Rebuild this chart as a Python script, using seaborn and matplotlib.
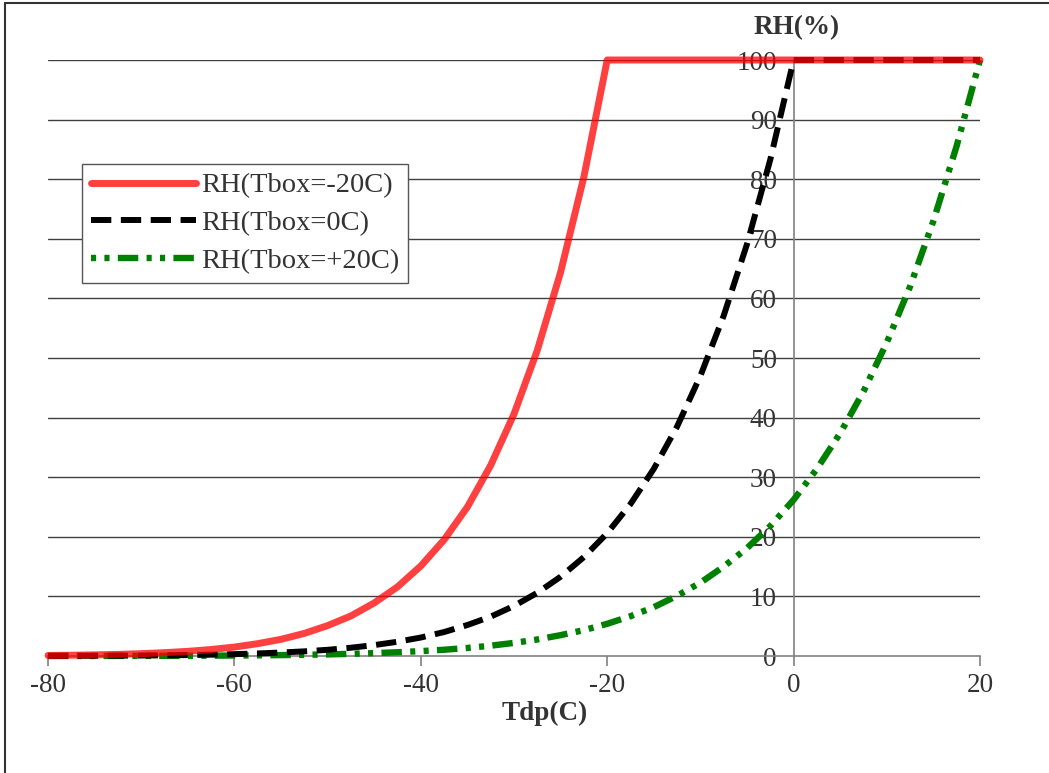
import pandas as pd
import seaborn as sns
import matplotlib
matplotlib.use("Agg")
from matplotlib import pyplot as plt
from matplotlib.lines import Line2D

# dew point temperature (C)
tdp = [-80, -77.5, -75, -72.5, -70, -67.5, -65, -62.5, -60, -57.5, -55,
       -52.5, -50, -47.5, -45, -42.5, -40, -37.5, -35, -32.5, -30,
       -27.5, -25, -22.5, -20, -17.5, -15, -12.5, -10, -7.5, -5,
       -2.5, 0, 2.5, 5, 7.5, 10, 12.5, 15, 17.5, 20]

# relative humidity (%), one list per box temperature
rh_m20 = [0.09, 0.13, 0.19, 0.27, 0.39, 0.56, 0.78, 1.09, 1.5, 2.07, 2.8,
          3.79, 5.1, 6.72, 8.9, 11.6, 15.1, 19.5, 25.0, 32.0, 40.6,
          51.3, 64.4, 80.4, 100, 100, 100, 100, 100, 100, 100,
          100, 100, 100, 100, 100, 100, 100, 100, 100, 100]
rh_0 = [0.02, 0.03, 0.04, 0.06, 0.08, 0.11, 0.16, 0.22, 0.31, 0.43, 0.58,
        0.78, 1.04, 1.39, 1.83, 2.39, 3.1, 4.02, 5.2, 6.6, 8.4,
        10.6, 13.3, 16.6, 20.6, 25.5, 31.4, 38.5, 47.0, 57.1, 69.1,
        83.3, 100, 100, 100, 100, 100, 100, 100, 100, 100]
rh_p20 = [0.005, 0.007, 0.01, 0.015, 0.02, 0.03, 0.04, 0.06, 0.08, 0.11, 0.15,
          0.2, 0.27, 0.36, 0.48, 0.63, 0.82, 1.05, 1.35, 1.73, 2.2,
          2.77, 3.5, 4.34, 5.4, 6.68, 8.2, 10.1, 12.3, 15.0, 18.1,
          21.8, 26.2, 31.4, 37.4, 44.4, 52.6, 62.0, 73.0, 85.6, 100]

labels = ["RH(Tbox=-20C)", "RH(Tbox=0C)", "RH(Tbox=+20C)"]
xticks = [-80, -60, -40, -20, 0, 20]
yticks = [0, 10, 20, 30, 40, 50, 60, 70, 80, 90, 100]

df = pd.DataFrame({"Tdp": tdp, "m20": rh_m20, "z0": rh_0, "p20": rh_p20})

sns.set_style("white")
plt.rcParams["font.family"] = ["Liberation Serif", "DejaVu Serif"]
plt.rcParams["axes.unicode_minus"] = False

W, H = 1049, 773
fig = plt.figure(figsize=(W / 100, H / 100), dpi=100)
ax = fig.add_axes([48 / W, 1 - 656 / H, 932 / W, 596 / H])

red = (1.0, 0.0, 0.0)
green = "#008000"

#green dash-dot-dot, black dashes, red solid on top (semi transparent)
sns.lineplot(data=df, x="Tdp", y="p20", ax=ax, color=green, linewidth=4.6,
             linestyle=(0, (3.2, 1.3, 0.8, 1.3, 0.8, 1.3)), clip_on=False,
             zorder=3)
sns.lineplot(data=df, x="Tdp", y="z0", ax=ax, color="black", linewidth=4.3,
             linestyle=(0, (3.4, 1.6)), clip_on=False, zorder=4)
sns.lineplot(data=df, x="Tdp", y="m20", ax=ax, color=red, alpha=0.75,
             linewidth=5.0, clip_on=False, zorder=5)

ax.set_xlim(-80, 20)
ax.set_ylim(0, 100)
ax.set_xticks(xticks)
ax.set_yticks(yticks)
ax.set_xlabel("")
ax.set_ylabel("")

# horizontal grid lines
for v in yticks[1:]:
    ax.axhline(v, color="#404040", linewidth=1, zorder=1)

for s in ["top", "right"]:
    ax.spines[s].set_visible(False)
ax.spines["left"].set_position(("data", 0))
ax.spines["left"].set_color("#808080")
ax.spines["left"].set_linewidth(1.2)
ax.spines["left"].set_zorder(2)
ax.spines["bottom"].set_color("#808080")
ax.spines["bottom"].set_linewidth(1.2)

tick_col = "#333333"
ax.tick_params(axis="y", length=0, pad=12, labelsize=19.5, labelcolor=tick_col)
ax.tick_params(axis="x", length=7, width=1.2, color="#808080", direction="out",
               pad=5, labelsize=19.5, labelcolor=tick_col, bottom=True)
for t in ax.get_yticklabels():
    t.set_zorder(2)

fig.text(797 / W, 1 - 28 / H, "RH(%)", fontsize=19.5, fontweight="bold",
         color=tick_col, ha="center", va="center")
fig.text(545 / W, 1 - 713 / H, "Tdp(C)", fontsize=19.5, fontweight="bold",
         color=tick_col, ha="center", va="center")

handles = [
    Line2D([], [], color=red, alpha=0.75, linewidth=5.0),
    Line2D([], [], color="black", linewidth=4.3, linestyle=(0, (3.4, 1.6))),
    Line2D([], [], color=green, linewidth=4.6,
           linestyle=(0, (0.8, 1.3, 0.8, 1.3, 3.2, 1.3))),
]
leg = ax.legend(handles, labels, loc="upper left",
                bbox_to_anchor=((82 - 48) / 932, (656 - 164) / 596),
                borderaxespad=0, fontsize=20.5, handlelength=3.7,
                handletextpad=0.2, labelspacing=0.42, borderpad=0.3,
                fancybox=False, framealpha=1, edgecolor="#555555")
leg.get_frame().set_linewidth(1)
for t in leg.get_texts():
    t.set_color(tick_col)

# frame lines at the top and left of the picture
fig.add_artist(Line2D([5 / W, 1], [1 - 3 / H, 1 - 3 / H], color="#333333",
                      linewidth=1.5, transform=fig.transFigure))
fig.add_artist(Line2D([5 / W, 5 / W], [0, 1 - 3 / H], color="#333333",
                      linewidth=1.5, transform=fig.transFigure))

fig.savefig("out.png", dpi=100)
